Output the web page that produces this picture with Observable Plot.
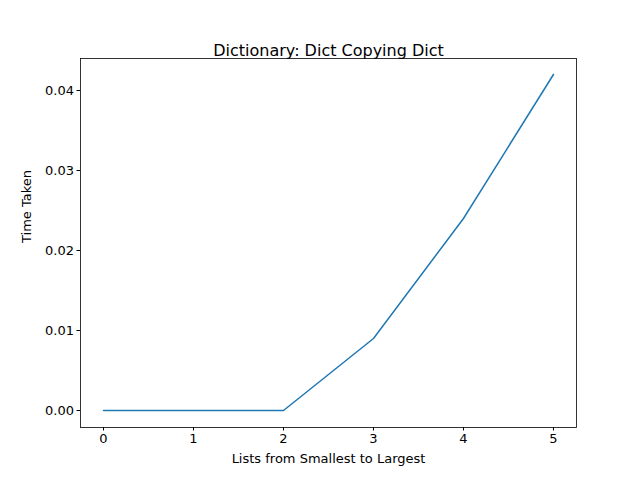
<!DOCTYPE html>
<html><head><meta charset="utf-8">
<script src="https://cdn.jsdelivr.net/npm/d3@7"></script>
<script src="https://cdn.jsdelivr.net/npm/@observablehq/plot@0.6"></script>
<style>body{margin:0;background:#fff}</style>
</head><body><div id="c"></div>
<script>
const xs = [0, 1, 2, 3, 4, 5];
const times = [0, 0, 0, 0.009, 0.024, 0.042];
const xTicks = [0, 1, 2, 3, 4, 5];
const yTicks = [0, 0.01, 0.02, 0.03, 0.04];
const title = "Dictionary: Dict Copying Dict";
const data = xs.map((x, i) => ({x, y: times[i]}));
const chart = Plot.plot({
  width: 640, height: 480,
  marginLeft: 80, marginRight: 64, marginTop: 58, marginBottom: 53,
  style: {fontFamily: "DejaVu Sans", fontSize: "13px", color: "#000", background: "#fff"},
  x: {domain: [-0.2556, 5.256]},
  y: {domain: [-0.002125, 0.044]},
  marks: [
    Plot.axisX({ticks: xTicks, tickSize: 3.5, tickPadding: 3, tickFormat: d => String(d), label: null, fontSize: 13}),
    Plot.axisY({ticks: yTicks, tickSize: 3.5, tickPadding: 3, tickFormat: d3.format(".2f"), label: null, fontSize: 13}),
    Plot.line(data, {x: "x", y: "y", stroke: "#1f77b4", strokeWidth: 1.5}),
    Plot.frame({stroke: "#000", strokeWidth: 0.8}),
    Plot.text([title], {frameAnchor: "top", dy: -14, fontSize: 16, text: d => d}),
    Plot.text(["Lists from Smallest to Largest"], {frameAnchor: "bottom", dy: 35, fontSize: 13, text: d => d}),
    Plot.text(["Time Taken"], {frameAnchor: "left", dx: -54, rotate: -90, fontSize: 13, text: d => d})
  ]
});
document.getElementById("c").appendChild(chart);
</script></body></html>
